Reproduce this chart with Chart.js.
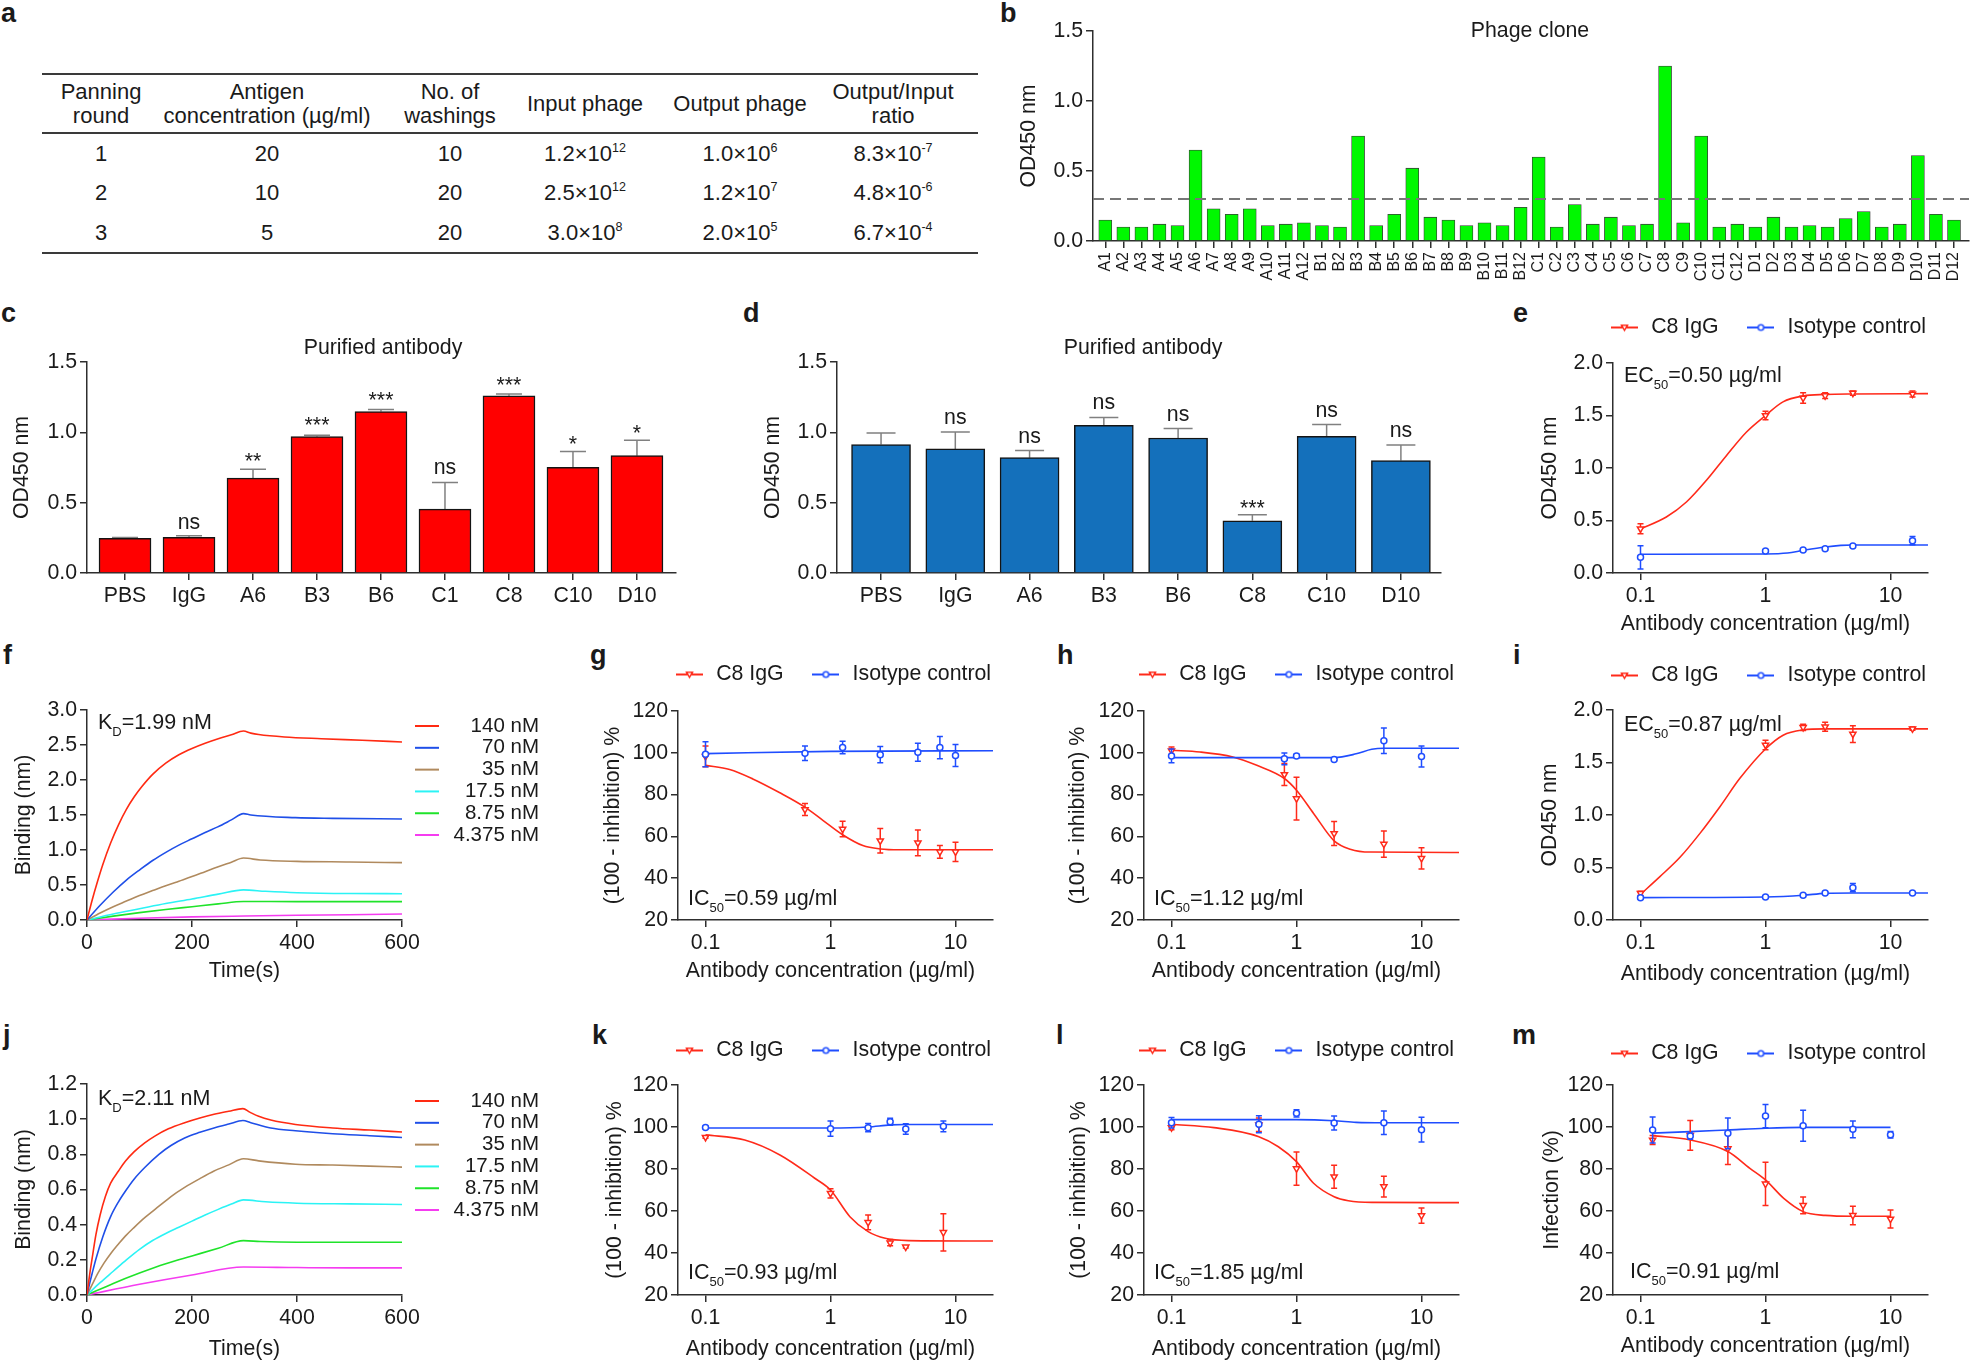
<!DOCTYPE html>
<html><head><meta charset="utf-8">
<style>
html,body{margin:0;padding:0;background:#fff;width:1971px;height:1360px;overflow:hidden;font-family:"Liberation Sans",Arial,sans-serif;color:#1a1a1a}
canvas{position:absolute}
.cell{position:absolute;white-space:pre;text-align:center;transform:translateX(-50%);font-size:22px;line-height:24px}
.cell sup{font-size:12.5px;line-height:0;vertical-align:baseline;position:relative;top:-9px}
.rule{position:absolute;background:#3a3a3a;left:42px;width:936px}
.letter{position:absolute;font-weight:bold;font-size:27px;line-height:27px}
</style>
<script src="https://cdn.jsdelivr.net/npm/chart.js@4"></script>
</head><body>
<script>
/* ---------- panel a ---------- */
const tableHeaders=["Panning\nround","Antigen\nconcentration (µg/ml)","No. of\nwashings","Input phage","Output phage","Output/Input\nratio"];
const tableRound=["1","2","3"];
const tableAntigen=["20","10","5"];
const tableWashings=["10","20","20"];
const tableInput=["1.2×10<sup>12</sup>","2.5×10<sup>12</sup>","3.0×10<sup>8</sup>"];
const tableOutput=["1.0×10<sup>6</sup>","1.2×10<sup>7</sup>","2.0×10<sup>5</sup>"];
const tableRatio=["8.3×10<sup>-7</sup>","4.8×10<sup>-6</sup>","6.7×10<sup>-4</sup>"];

/* ---------- panel b ---------- */
const bClones=["A1","A2","A3","A4","A5","A6","A7","A8","A9","A10","A11","A12","B1","B2","B3","B4","B5","B6","B7","B8","B9","B10","B11","B12","C1","C2","C3","C4","C5","C6","C7","C8","C9","C10","C11","C12","D1","D2","D3","D4","D5","D6","D7","D8","D9","D10","D11","D12"];
const bOD=[.15,.10,.10,.12,.11,.65,.23,.19,.23,.11,.12,.13,.11,.10,.75,.11,.19,.52,.17,.15,.11,.13,.11,.24,.60,.10,.26,.12,.17,.11,.12,1.25,.13,.75,.10,.12,.10,.17,.10,.11,.10,.16,.21,.10,.12,.61,.19,.15];
const bCutoff=0.3;

/* ---------- panel c ---------- */
const cGroups=["PBS","IgG","A6","B3","B6","C1","C8","C10","D10"];
const cOD=[.247,.254,.675,.97,1.148,.454,1.26,.751,.834];
const cErr=[.005,.01,.062,.009,.014,.19,.012,.112,.11];
const cSig=["","ns","**","***","***","ns","***","*","*"];
const cSigY=[0,.311,.745,1.001,1.181,.704,1.288,.868,.947];

/* ---------- panel d ---------- */
const dGroups=["PBS","IgG","A6","B3","B6","C8","C10","D10"];
const dOD=[.913,.882,.82,1.05,.96,.371,.972,.80];
const dErr=[.083,.121,.05,.055,.067,.043,.083,.11];
const dSig=["","ns","ns","ns","ns","***","ns","ns"];
const dSigY=[0,1.06,.922,1.165,1.082,.414,1.108,.965];

/* ---------- panel e ---------- */
const eConc=[.1,1,2,3,5,15];
const eC8=[.422,1.50,1.667,1.689,1.714,1.705];
const eC8Err=[.048,.04,.05,.027,.02,.028];
const eIso=[.149,.21,.219,.232,.257,.308];
const eIsoErr=[.11,.01,.01,.012,.01,.04];
const eC8Fit=[[.1,.42],[.161,.533],[.233,.676],[.337,.883],[.488,1.12],[.705,1.343],[1,1.5],[1.38,1.63],[2,1.686],[3,1.70],[5,1.705],[19.95,1.708]];
const eIsoFit=[[.1,.178],[1,.181],[1.5,.19],[2,.216],[3,.248],[4,.263],[5,.267],[19.95,.267]];

/* ---------- panel f ---------- */
const fCurve140=[[0,0],[10,.29],[20,.55],[30,.79],[45,1.10],[60,1.36],[75,1.58],[90,1.76],[105,1.91],[125,2.08],[150,2.24],[175,2.36],[200,2.45],[225,2.525],[250,2.59],[275,2.645],[298,2.70],[312,2.67],[327,2.65],[376,2.615],[446,2.59],[524,2.567],[600,2.543]];
const fCurve70=[[0,0],[25,.21],[50,.40],[75,.57],[101,.72],[125,.85],[151,.97],[175,1.07],[200,1.16],[225,1.25],[249,1.33],[275,1.43],[298,1.52],[312,1.50],[397,1.462],[468,1.452],[600,1.443]];
const fCurve35=[[0,0],[25,.10],[50,.19],[75,.27],[100,.35],[125,.42],[150,.49],[175,.555],[200,.62],[225,.69],[250,.76],[275,.825],[298,.885],[330,.857],[400,.838],[500,.829],[600,.819]];
const fCurve17=[[0,0],[50,.085],[100,.16],[150,.235],[200,.30],[250,.37],[298,.43],[340,.41],[400,.39],[500,.378],[600,.376]];
const fCurve8=[[0,0],[50,.055],[100,.105],[150,.15],[200,.19],[250,.23],[298,.265],[400,.262],[600,.262]];
const fCurve4=[[0,0],[100,.025],[200,.045],[300,.057],[400,.067],[500,.076],[600,.086]];

/* ---------- panel g ---------- */
const gConc=[.1,.625,1.25,2.5,5,7.5,10];
const gC8=[98.3,72.9,63.5,57.9,56.9,52.6,52.6];
const gC8Err=[5,2.9,3.7,5.9,6.2,3.1,4.6];
const gIso=[99.3,99.8,102.5,99.1,100.3,102.5,98.7];
const gIsoErr=[6,3.5,3,3.9,4.3,5.3,5.3];
const gC8Fit=[[.1,94],[.156,92],[.239,87.5],[.39,81],[.625,74],[.869,67.7],[1.25,60.8],[1.815,55.6],[2.5,54],[3.56,53.6],[19.95,53.6]];
const gIsoFit=[[.1,99.6],[1,100.7],[19.95,101]];

/* ---------- panel h ---------- */
const hConc=[.1,.8,1,2,5,10];
const hC8=[101,89.6,78.1,61.4,56.3,49.5];
const hC8Err=[1.8,5.3,10.2,5.7,6.3,5.1];
const hIso=[98.5,97.1,98.5,96.8,105.8,98.2];
const hIsoErr=[3.3,2.8,.8,.5,6.1,5];
const hC8Fit=[[.1,101.2],[.169,100.4],[.31,98],[.481,94],[.8,87.7],[1,82.1],[1.37,71],[2,57.9],[2.69,53.9],[3.9,52.5],[19.95,52.3]];
const hIsoFit=[[.1,97.7],[1,97.7],[2,97.7],[3,99.5],[4,101.7],[5,102.2],[19.95,102.2]];

/* ---------- panel i ---------- */
const iConc=[.1,1,2,3,5,15];
const iC8=[.254,1.667,1.835,1.841,1.771,1.822];
const iC8Err=[.02,.045,.03,.043,.08,.015];
const iIso=[.213,.219,.235,.257,.308,.257];
const iIsoErr=[.01,.01,.01,.01,.04,.01];
const iC8Fit=[[.1,.244],[.143,.413],[.207,.597],[.299,.825],[.432,1.079],[.624,1.349],[1,1.629],[1.384,1.76],[2,1.81],[3,1.82],[5,1.82],[19.95,1.82]];
const iIsoFit=[[.1,.213],[1,.219],[2,.235],[3,.254],[5,.257],[19.95,.257]];

/* ---------- panel j ---------- */
const jCurve140=[[0,0],[5,.115],[10,.212],[17,.343],[25,.455],[35,.56],[45,.636],[60,.705],[73,.76],[90,.815],[110,.865],[130,.905],[155,.945],[186,.98],[215,1.007],[242,1.028],[270,1.045],[297,1.06],[310,1.04],[327,1.016],[350,.995],[397,.97],[468,.95],[538,.938],[600,.927]];
const jCurve70=[[0,0],[5,.065],[10,.125],[17,.205],[30,.33],[45,.446],[60,.53],[73,.59],[90,.66],[110,.725],[137,.80],[160,.85],[186,.893],[215,.925],[242,.95],[270,.972],[297,.992],[312,.98],[350,.95],[397,.934],[468,.917],[538,.906],[600,.896]];
const jCurve35=[[0,0],[10,.06],[20,.12],[32,.18],[45,.235],[60,.29],[73,.335],[90,.385],[110,.44],[137,.505],[160,.56],[186,.612],[215,.662],[242,.705],[270,.74],[298,.775],[327,.763],[397,.744],[468,.739],[538,.733],[600,.727]];
const jCurve17=[[0,0],[25,.07],[50,.135],[75,.20],[100,.26],[125,.31],[150,.35],[175,.385],[200,.42],[225,.455],[250,.487],[275,.517],[298,.541],[340,.53],[400,.522],[500,.518],[600,.515]];
const jCurve8=[[0,0],[50,.066],[100,.125],[150,.178],[200,.222],[250,.266],[298,.309],[330,.304],[400,.30],[500,.30],[600,.30]];
const jCurve4=[[0,0],[100,.061],[200,.114],[298,.159],[400,.156],[500,.154],[600,.154]];

/* ---------- panel k ---------- */
const kConc=[.1,1,2,3,4,8];
const kC8=[95.1,68.4,54.6,44.9,42.9,49.8];
const kC8Err=[.5,2.2,3.5,1.5,.5,8.9];
const kIso=[99.8,99.2,99.7,102.5,99,100.3];
const kIsoErr=[.5,3.6,2,1.7,2.5,2.6];
const kC8Fit=[[.1,96.3],[.206,93.8],[.394,86.7],[.748,75.6],[1,70],[1.43,57.3],[2,50.2],[2.74,47],[4.2,45.9],[19.95,45.7]];
const kIsoFit=[[.1,99.5],[1,99.5],[2,100],[3,101],[4,101.2],[19.95,101.2]];

/* ---------- panel l ---------- */
const lConc=[.1,.5,1,2,5,10];
const lC8=[99.7,101.1,80.2,76.3,71.6,57.8];
const lC8Err=[1,3.2,7.9,5.5,4.9,3.6];
const lIso=[102,101.3,106.5,101.9,102,98.7];
const lIsoErr=[2.5,4,1.7,3.3,5.6,5.9];
const lC8Fit=[[.1,101.3],[.219,99.7],[.5,95.4],[.716,90.6],[1,83.5],[1.37,73.2],[2,66.8],[2.6,64.9],[4,64.1],[19.95,64]];
const lIsoFit=[[.1,103.5],[.5,103.5],[1,103.5],[2,103],[3,102.2],[5,102],[19.95,102]];

/* ---------- panel m ---------- */
const mConc=[.125,.25,.5,1,2,5,10];
const mC8=[93.8,96,89.7,72.9,62.7,57.9,56.2];
const mC8Err=[2.1,7.1,7.5,10.3,4,4.4,4.3];
const mIso=[98.6,95.7,97,105.2,100.6,98.9,96.3];
const mIsoErr=[6.2,1.5,7.3,5.5,7.4,4,1.5];
const mC8Fit=[[.125,95.9],[.25,93.8],[.5,88.3],[.75,80.3],[1,74.8],[1.4,66],[2,59.7],[3,57.9],[5,57.5],[10,57.5]];
const mIsoFit=[[.125,97.1],[.25,97.8],[.5,98.6],[1,99.4],[2,99.8],[5,99.8],[10,99.8]];

/* ---------- shared labels ---------- */
const doseTicks=[.1,1,10];
const concLabels=["140 nM","70 nM","35 nM","17.5 nM","8.75 nM","4.375 nM"];
const bliColors=["#ff2a12","#1f4fe8","#b08a5e","#2bf3f5","#1fe32a","#f53cf0"];

/* ---------- drawing helpers ---------- */
const FONT='"Liberation Sans", Arial, sans-serif';
const INK='#1a1a1a', AXIS='#2e2e2e', RED='#ff2a1a', BLUE='#1f4dff';
const FS=21.3;
Chart.defaults.font.family=FONT;
Chart.defaults.color=INK;

function lineIcon(color,marker,w){
  const c=document.createElement('canvas');c.width=w;c.height=12;
  const x=c.getContext('2d');x.strokeStyle=color;x.lineWidth=2;x.beginPath();x.moveTo(0,6);x.lineTo(w,6);x.stroke();
  x.lineWidth=1.5;x.fillStyle='#fff';
  if(marker==='circle'){x.beginPath();x.arc(w/2,6,2.8,0,7);x.fill();x.stroke();}
  if(marker==='tri'){x.beginPath();x.moveTo(w/2-3,3.8);x.lineTo(w/2+3,3.8);x.lineTo(w/2,8.8);x.closePath();x.fill();x.stroke();}
  return c;
}
const errorBars={id:'errorBars',beforeDatasetDraw(chart,args){
  const ds=chart.data.datasets[args.index]; if(!ds.errs) return;
  const {ctx,scales:{x,y}}=chart;
  ctx.save();ctx.strokeStyle=ds.errColor;ctx.lineWidth=1.5;
  ds.data.forEach((p,i)=>{
    const e=ds.errs[i]; if(e==null) return;
    const px=x.getPixelForValue(p.x), hi=y.getPixelForValue(p.y+e), lo=y.getPixelForValue(ds.upOnly?p.y:p.y-e);
    ctx.beginPath();ctx.moveTo(px,lo);ctx.lineTo(px,hi);
    ctx.moveTo(px-ds.errCap,hi);ctx.lineTo(px+ds.errCap,hi);
    if(!ds.upOnly){ctx.moveTo(px-ds.errCap,lo);ctx.lineTo(px+ds.errCap,lo);}
    ctx.stroke();
  });
  ctx.restore();
}};
function panel(s){
  const L=85,R=s.right||30,B=75;
  const T=s.legend?95:(s.title?45:30);
  const p=s.plot, cl=p.l-L, ct=p.t-T;
  const cv=document.createElement('canvas');
  cv.width=p.r-p.l+L+R;cv.height=p.b-p.t+T+B;
  cv.style.left=cl+'px';cv.style.top=ct+'px';
  document.body.appendChild(cv);
  const pad=s.legendPad||26;
  const fs=s.legendFont||FS;
  const reserved=s.legend==='h'?(fs+2*pad):(s.title?25.2:0);
  const base=(extra)=>Object.assign({
    border:{color:AXIS,width:1.5},
    grid:{display:true,drawOnChartArea:false,drawTicks:true,tickLength:7,color:AXIS,lineWidth:1.5}
  },extra);
  const lh=FS*1.2;
  const custom={id:'panelLayout',
    afterLayout(chart){
      if(s.title&&chart.titleBlock){const t=chart.titleBlock;t.left=s.titleAt[0]-cl-250;t.right=s.titleAt[0]-cl+250;t.top=s.titleAt[1]-ct-lh/2;t.bottom=t.top+lh;}
      if(s.legend&&chart.legend){const g=chart.legend;
        g.left=s.legendAt[0]-cl-pad;
        g.top=s.legendAt[1]-ct-fs/2-pad;
        g.right=s.legend==='v'?s.legendRight-cl:g.left+1200;
        g.bottom=g.top+400;
      }
      if(s.xTitleShift){const sc=chart.scales.x;if(!sc.$shifted){const o=sc.drawTitle;sc.drawTitle=function(){chart.ctx.save();chart.ctx.translate(s.xTitleShift,0);o.call(this);chart.ctx.restore();};sc.$shifted=true;}}
    },
    afterDraw(chart){
      const ctx=chart.ctx;ctx.save();ctx.fillStyle=INK;ctx.textBaseline='alphabetic';
      (s.marks||[]).forEach(m=>{
        ctx.font=FS+'px '+FONT;ctx.textAlign='center';
        ctx.fillText(m.text,chart.scales.x.getPixelForValue(m.x),chart.scales.y.getPixelForValue(m.y));
      });
      if(s.note){ctx.textAlign='left';let x=s.note.at[0]-cl;const y=s.note.at[1]-ct;
        s.note.parts.forEach(([t,sub])=>{ctx.font=(sub?'13px ':'21.5px ')+FONT;ctx.fillText(t,x,sub?y+7:y);x+=ctx.measureText(t).width;});}
      ctx.restore();
    }};
  const chart=new Chart(cv.getContext('2d'),{
    type:s.type,
    data:{datasets:s.datasets},
    options:{
      responsive:false,animation:false,devicePixelRatio:1,events:[],
      layout:{padding:{left:0,right:R,bottom:0,top:T-reserved}},
      scales:{
        x:base(Object.assign({
          afterFit(sc){sc.height=B;},
          title:{display:true,text:s.xTitle||'',font:{size:FS},color:INK,padding:{top:0,bottom:s.xTitleY!=null?(p.b+B-s.xTitleY-lh/2):0}},
          ticks:Object.assign({color:INK,font:{size:FS},padding:3,autoSkip:false,maxRotation:0,minRotation:0},s.xTicks)
        },s.x)),
        y:base(Object.assign({
          afterFit(sc){sc.width=L;},
          title:{display:true,text:s.yTitle,font:{size:FS},color:INK,padding:{top:s.yTitleX-cl-lh/2,bottom:0}},
          ticks:{color:INK,font:{size:FS},padding:3,autoSkip:false,
            callback:s.yFmt||(v=>String(v))}
        },s.y))
      },
      plugins:{
        tooltip:{enabled:false},
        title:s.title?{display:true,text:s.title,font:{size:FS,weight:'normal'},color:INK,padding:0,fullSize:false}:{display:false},
        legend:s.legend?{display:true,position:s.legend==='h'?'top':'chartArea',align:'start',
          labels:{color:INK,font:{size:fs},usePointStyle:true,pointStyleWidth:s.legendIconW,padding:pad,textAlign:s.legend==='v'?'right':'left',
            generateLabels:c=>c.data.datasets.filter(d=>d.icon).map(d=>({text:d.label,pointStyle:d.icon,fontColor:INK,lineWidth:0,hidden:false,strokeStyle:'transparent',fillStyle:'transparent',textAlign:s.legend==='v'?'right':'left'}))}
        }:{display:false}
      }
    },
    plugins:[errorBars,custom]
  });
  /* make the plot area land exactly on the requested rectangle */
  const dTop=T-chart.chartArea.top;
  if(Math.abs(dTop)>.01){chart.options.layout.padding.top=chart.options.layout.padding.top+dTop;chart.update();}
}
const fx1=v=>Number(v).toFixed(1);
const pts=(xs,ys)=>xs.map((x,i)=>({x,y:ys[i]}));
const curve=a=>a.map(([x,y])=>({x,y}));

function barPanel(o){
  const data=pts(o.cats.map((c,i)=>i+1),o.vals);
  const ds=[];
  if(o.cutoff!=null) ds.push({type:'line',data:[{x:o.min,y:o.cutoff},{x:o.max,y:o.cutoff}],borderColor:'#777',borderWidth:2,borderDash:[11,6],pointRadius:0,order:0});
  ds.push({type:'bar',data,backgroundColor:o.color,borderColor:o.edge||'#141414',borderWidth:o.edgeW||1.5,barThickness:o.barW,errs:o.errs,upOnly:true,errCap:o.cap,errColor:'#808080',order:1});
  panel({type:'bar',plot:o.plot,title:o.title,titleAt:o.titleAt,yTitle:'OD450 nm',yTitleX:o.yTitleX,yFmt:fx1,right:o.right,
    xTitle:'',datasets:ds,
    x:{type:'linear',offset:false,min:o.min,max:o.max,grid:Object.assign({display:true,drawOnChartArea:false,drawTicks:true,tickLength:7,color:AXIS,lineWidth:1.5},{offset:false}),
      afterBuildTicks(sc){sc.ticks=o.cats.map((c,i)=>({value:i+1}));},
      title:{display:false}},
    xTicks:Object.assign({callback:v=>o.cats[v-1]},o.xTicks),
    y:{min:0,max:1.5,ticks:{color:INK,font:{size:FS},padding:3,stepSize:.5,callback:fx1}},
    marks:(o.sig||[]).map((t,i)=>({text:t,x:i+1,y:o.sigY[i]})).filter(m=>m.text)
  });
}
function dosePanel(o){
  const c8={type:'line',label:'C8 IgG',icon:lineIcon(RED,'tri',27),data:pts(o.conc,o.c8),showLine:false,pointStyle:'triangle',pointRotation:180,pointRadius:3.6,pointBorderWidth:1.5,pointBorderColor:RED,pointBackgroundColor:'#fff',errs:o.c8Err,errCap:3,errColor:RED,order:2};
  const iso={type:'line',label:'Isotype control',icon:lineIcon(BLUE,'circle',27),data:pts(o.conc,o.iso),showLine:false,pointStyle:'circle',pointRadius:3,pointBorderWidth:1.5,pointBorderColor:BLUE,pointBackgroundColor:'#fff',errs:o.isoErr,errCap:3,errColor:BLUE,order:1};
  const cf={type:'line',data:curve(o.c8Fit),borderColor:RED,borderWidth:1.6,pointRadius:0,cubicInterpolationMode:'monotone',order:4};
  const bf={type:'line',data:curve(o.isoFit),borderColor:BLUE,borderWidth:1.6,pointRadius:0,cubicInterpolationMode:'monotone',order:3};
  panel({type:'line',plot:o.plot,legend:'h',legendAt:[o.legendX-2.5,o.legendY+1.5],legendIconW:32,legendPad:26.3,
    xTitle:'Antibody concentration (µg/ml)',xTitleY:o.xTitleY+1,xTitleShift:-5,yTitle:o.yTitle,yTitleX:o.yTitleX,yFmt:o.yFmt,
    datasets:[c8,iso,cf,bf],
    x:{type:'logarithmic',min:Math.pow(10,-1.22),max:Math.pow(10,1.30),
      afterBuildTicks(sc){sc.ticks=doseTicks.map(v=>({value:v}));}},
    xTicks:{callback:v=>String(v)},
    y:{min:o.yMin,max:o.yMax,ticks:{color:INK,font:{size:FS},padding:3,stepSize:o.yStep,callback:o.yFmt||(v=>String(v))}},
    note:{at:o.noteAt,parts:o.note}
  });
}
function bliPanel(o){
  panel({type:'line',plot:o.plot,legend:'v',legendAt:[414.5,o.legendY+1],legendRight:539,legendIconW:24,legendPad:1.3,legendFont:20.5,right:150,
    xTitle:'Time(s)',xTitleY:o.xTitleY+1,yTitle:'Binding (nm)',yTitleX:24,yFmt:fx1,
    datasets:o.curves.map((c,i)=>({type:'line',label:concLabels[i],icon:lineIcon(bliColors[i],null,24),data:curve(c),borderColor:bliColors[i],borderWidth:1.6,pointRadius:0,cubicInterpolationMode:'monotone'})),
    x:{type:'linear',min:0,max:600},
    xTicks:{stepSize:200},
    y:{min:0,max:o.yMax,ticks:{color:INK,font:{size:FS},padding:3,stepSize:o.yStep,callback:fx1}},
    note:{at:[98,o.noteY],parts:o.note}
  });
}

/* ---------- page furniture ---------- */
function addCell(html,x,top){const d=document.createElement('div');d.className='cell';d.innerHTML=html;d.style.left=x+'px';d.style.top=top+'px';document.body.appendChild(d);}
const colX=[101,267,450,585,740,893];
tableHeaders.forEach((h,i)=>addCell(h,colX[i],h.includes('\n')?80:92));
[tableRound,tableAntigen,tableWashings,tableInput,tableOutput,tableRatio].forEach((col,i)=>col.forEach((v,r)=>addCell(v,colX[i],[142,181,221][r])));
[[73,2],[132,2],[252,2]].forEach(([y,h])=>{const d=document.createElement('div');d.className='rule';d.style.top=y+'px';d.style.height=h+'px';document.body.appendChild(d);});
[["a",1,0],["b",1000,0],["c",1,300],["d",743,300],["e",1513,300],["f",3,642],["g",590,642],["h",1057,642],["i",1513,642],["j",3,1022],["k",592,1022],["l",1056,1022],["m",1512,1022]].forEach(([t,x,y])=>{
  const d=document.createElement('div');d.className='letter';d.textContent=t;d.style.left=x+'px';d.style.top=y+'px';document.body.appendChild(d);});

/* ---------- panels ---------- */
barPanel({plot:{l:1093,r:1969,t:31,b:241},cats:bClones,vals:bOD,color:'#00f800',edge:'#3a3a3a',edgeW:.8,barW:13,min:.32,max:48.83,cutoff:bCutoff,title:'Phage clone',titleAt:[1530,31],yTitleX:1029,right:20,
  xTicks:{font:{size:16},maxRotation:90,minRotation:90,padding:4}});
barPanel({plot:{l:87,r:676,t:362,b:573},cats:cGroups,vals:cOD,errs:cErr,color:'#ff0000',barW:52,cap:13,min:.406,max:9.61,title:'Purified antibody',titleAt:[383,348],yTitleX:22,sig:cSig,sigY:cSigY});
barPanel({plot:{l:837,r:1441,t:362,b:573},cats:dGroups,vals:dOD,errs:dErr,color:'#1470bb',barW:59,cap:14.5,min:.407,max:8.54,title:'Purified antibody',titleAt:[1143,348],yTitleX:773,sig:dSig,sigY:dSigY});

const ec=(v)=>[["EC"],["50",1],["="+v+" µg/ml"]];
const ic=(v)=>[["IC"],["50",1],["="+v+" µg/ml"]];
const kd=(v)=>[["K"],["D",1],["="+v+" nM"]];

dosePanel({plot:{l:1613,r:1928,t:363,b:573},conc:eConc,c8:eC8,c8Err:eC8Err,iso:eIso,isoErr:eIsoErr,c8Fit:eC8Fit,isoFit:eIsoFit,yMin:0,yMax:2,yStep:.5,yFmt:fx1,yTitle:'OD450 nm',yTitleX:1550,legendX:1611,legendY:326,xTitleY:623,noteAt:[1624,382],note:ec('0.50')});
bliPanel({plot:{l:87,r:402,t:710,b:920},curves:[fCurve140,fCurve70,fCurve35,fCurve17,fCurve8,fCurve4],yMax:3,yStep:.5,legendY:725,xTitleY:970,noteY:729,note:kd('1.99')});
dosePanel({plot:{l:678,r:993,t:711,b:920},conc:gConc,c8:gC8,c8Err:gC8Err,iso:gIso,isoErr:gIsoErr,c8Fit:gC8Fit,isoFit:gIsoFit,yMin:20,yMax:120,yStep:20,yTitle:'(100 - inhibition) %',yTitleX:613,legendX:676,legendY:673,xTitleY:970,noteAt:[688,905],note:ic('0.59')});
dosePanel({plot:{l:1144,r:1459,t:711,b:920},conc:hConc,c8:hC8,c8Err:hC8Err,iso:hIso,isoErr:hIsoErr,c8Fit:hC8Fit,isoFit:hIsoFit,yMin:20,yMax:120,yStep:20,yTitle:'(100 - inhibition) %',yTitleX:1078,legendX:1139,legendY:673,xTitleY:970,noteAt:[1154,905],note:ic('1.12')});
dosePanel({plot:{l:1613,r:1928,t:710,b:920},conc:iConc,c8:iC8,c8Err:iC8Err,iso:iIso,isoErr:iIsoErr,c8Fit:iC8Fit,isoFit:iIsoFit,yMin:0,yMax:2,yStep:.5,yFmt:fx1,yTitle:'OD450 nm',yTitleX:1550,legendX:1611,legendY:674,xTitleY:973,noteAt:[1624,731],note:ec('0.87')});
bliPanel({plot:{l:87,r:402,t:1084,b:1295},curves:[jCurve140,jCurve70,jCurve35,jCurve17,jCurve8,jCurve4],yMax:1.2,yStep:.2,legendY:1100,xTitleY:1348,noteY:1105,note:kd('2.11')});
dosePanel({plot:{l:678,r:993,t:1085,b:1295},conc:kConc,c8:kC8,c8Err:kC8Err,iso:kIso,isoErr:kIsoErr,c8Fit:kC8Fit,isoFit:kIsoFit,yMin:20,yMax:120,yStep:20,yTitle:'(100 - inhibition) %',yTitleX:615,legendX:676,legendY:1049,xTitleY:1348,noteAt:[688,1279],note:ic('0.93')});
dosePanel({plot:{l:1144,r:1459,t:1085,b:1295},conc:lConc,c8:lC8,c8Err:lC8Err,iso:lIso,isoErr:lIsoErr,c8Fit:lC8Fit,isoFit:lIsoFit,yMin:20,yMax:120,yStep:20,yTitle:'(100 - inhibition) %',yTitleX:1079,legendX:1139,legendY:1049,xTitleY:1348,noteAt:[1154,1279],note:ic('1.85')});
dosePanel({plot:{l:1613,r:1928,t:1085,b:1295},conc:mConc,c8:mC8,c8Err:mC8Err,iso:mIso,isoErr:mIsoErr,c8Fit:mC8Fit,isoFit:mIsoFit,yMin:20,yMax:120,yStep:20,yTitle:'Infection (%)',yTitleX:1552,legendX:1611,legendY:1052,xTitleY:1345,noteAt:[1630,1278],note:ic('0.91')});
</script>
</body></html>
